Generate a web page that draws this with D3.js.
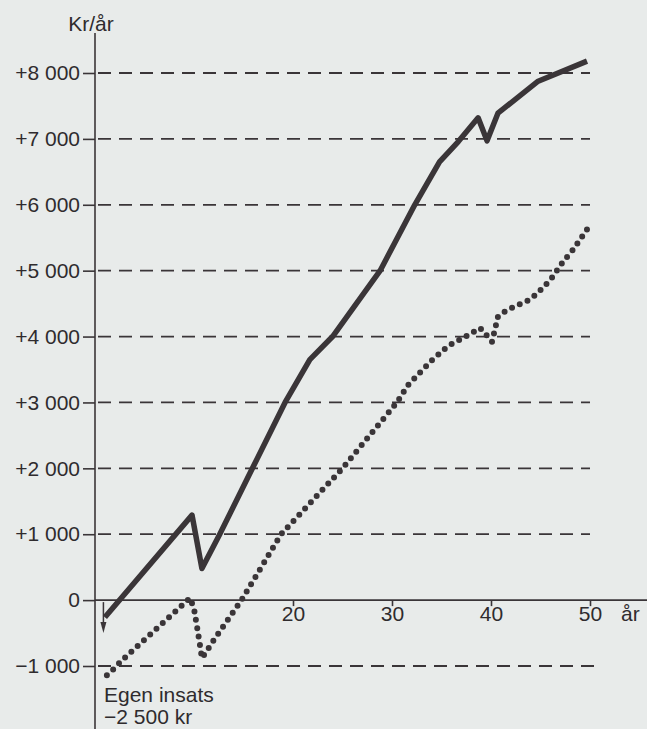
<!DOCTYPE html>
<html>
<head>
<meta charset="utf-8">
<script src="https://cdn.jsdelivr.net/npm/d3@7"></script>
<style>
  html, body { margin: 0; padding: 0; background: #e8ebea; }
  svg { display: block; }
  text { font-family: "Liberation Sans", Arial, sans-serif; fill: #2f2b2e; }
</style>
</head>
<body>
<svg id="chart" width="647" height="729"></svg>
<script>
// Yearly result (kr/år) over the years, two scenarios
const yTickValues = [8000, 7000, 6000, 5000, 4000, 3000, 2000, 1000, 0, -1000];
const yTickLabels = ["+8 000", "+7 000", "+6 000", "+5 000", "+4 000", "+3 000", "+2 000", "+1 000", "0", "\u22121 000"];
const xTickValues = [20, 30, 40, 50];

// Solid curve: year, kr/år
const solidYears  = [1, 9.8, 10.8, 12.6, 15.9, 19.2, 21.7, 24.0, 28.8, 32.3, 34.8, 36.7, 38.7, 39.6, 40.7, 44.7, 49.7];
const solidValues = [-260, 1290, 480, 1000, 2000, 3000, 3650, 4000, 5000, 6000, 6650, 6960, 7320, 6970, 7390, 7870, 8180];

// Dotted curve: year, kr/år
const dottedYears  = [1.2, 2.0, 2.6, 9.6, 10.0, 10.3, 10.6, 10.8, 11.3, 11.8, 14.8, 18.8, 25.0, 30.5, 31.6, 32.8, 34.1, 35.7, 37.2, 38.9, 39.5, 40.1, 40.7, 41.6, 43.9, 44.7, 46.0, 47.3, 48.3, 49.8];
const dottedValues = [-1140, -1030, -930, 30, -130, -400, -680, -880, -770, -650, 0, 1000, 2000, 3000, 3260, 3450, 3650, 3860, 3980, 4130, 4030, 3920, 4300, 4400, 4560, 4660, 4860, 5140, 5320, 5650];

const ink = "#3a3538";
const fontSize = 21;
const svg = d3.select("#chart");

const x = d3.scaleLinear().domain([0, 50]).range([95, 590]);
const y = d3.scaleLinear().domain([-1000, 8000]).range([666, 73]);

// Dashed reference lines at each thousand (except zero)
const grid = svg.append("g");
yTickValues.filter(v => v !== 0).forEach(v => {
  grid.append("line")
    .attr("x1", x(0) + 3).attr("x2", v === -1000 ? x(50.5) : x(50))
    .attr("y1", y(v)).attr("y2", y(v))
    .attr("stroke", ink).attr("stroke-width", 1.8)
    .attr("stroke-dasharray", "13 8");
});

// Y axis with "+8 000" style labels
const yAxis = d3.axisLeft(y)
  .tickValues(yTickValues)
  .tickFormat((d, i) => yTickLabels[i])
  .tickSize(12)
  .tickPadding(3);
const yg = svg.append("g").attr("transform", `translate(${x(0)},0)`).call(yAxis);
yg.select(".domain").remove();
yg.selectAll(".tick line").attr("stroke", ink).attr("stroke-width", 1.6);
yg.selectAll(".tick text").attr("font-size", fontSize).attr("fill", "#2f2b2e")
  .style("font-family", "'Liberation Sans', Arial, sans-serif");

svg.append("line")
  .attr("x1", x(0)).attr("x2", x(0)).attr("y1", 33).attr("y2", 729)
  .attr("stroke", ink).attr("stroke-width", 1.6);

// X axis along zero
const xAxis = d3.axisBottom(x).tickValues(xTickValues).tickSize(6).tickPadding(0);
const xg = svg.append("g").attr("transform", `translate(0,${y(0)})`).call(xAxis);
xg.select(".domain").remove();
xg.selectAll(".tick line").attr("stroke", ink).attr("stroke-width", 1.6);
xg.selectAll(".tick text").attr("font-size", fontSize).attr("fill", "#2f2b2e")
  .style("font-family", "'Liberation Sans', Arial, sans-serif");
svg.append("line")
  .attr("x1", x(0)).attr("x2", 647).attr("y1", y(0)).attr("y2", y(0))
  .attr("stroke", ink).attr("stroke-width", 1.6);

// Axis titles
svg.append("text").attr("x", 91).attr("y", 31).attr("text-anchor", "middle")
  .attr("font-size", fontSize).text("Kr/år");
svg.append("text").attr("x", 621).attr("y", y(0) + 21)
  .attr("font-size", fontSize).text("år");

// Initial own contribution: arrow below zero
const arrowX = x(0.85);
svg.append("line")
  .attr("x1", arrowX).attr("x2", arrowX).attr("y1", y(0) + 2).attr("y2", y(0) + 26)
  .attr("stroke", ink).attr("stroke-width", 1.5);
svg.append("path")
  .attr("d", `M${arrowX - 3},${y(0) + 22} L${arrowX},${y(0) + 33} L${arrowX + 3},${y(0) + 22} Z`)
  .attr("fill", ink);
svg.append("text").attr("x", 104).attr("y", 702).attr("font-size", fontSize).text("Egen insats");
svg.append("text").attr("x", 104).attr("y", 724).attr("font-size", fontSize).text("\u22122 500 kr");

const line = d3.line().x(d => x(d[0])).y(d => y(d[1]));

// Solid curve
svg.append("path")
  .datum(solidYears.map((yr, i) => [yr, solidValues[i]]))
  .attr("d", line)
  .attr("fill", "none").attr("stroke", ink).attr("stroke-width", 5.5)
  .attr("stroke-linejoin", "round").attr("stroke-linecap", "butt");

// Dotted curve
svg.append("path")
  .datum(dottedYears.map((yr, i) => [yr, dottedValues[i]]))
  .attr("d", line)
  .attr("fill", "none").attr("stroke", ink).attr("stroke-width", 6)
  .attr("stroke-linecap", "round").attr("stroke-dasharray", "0 8.5");
</script>
</body>
</html>
